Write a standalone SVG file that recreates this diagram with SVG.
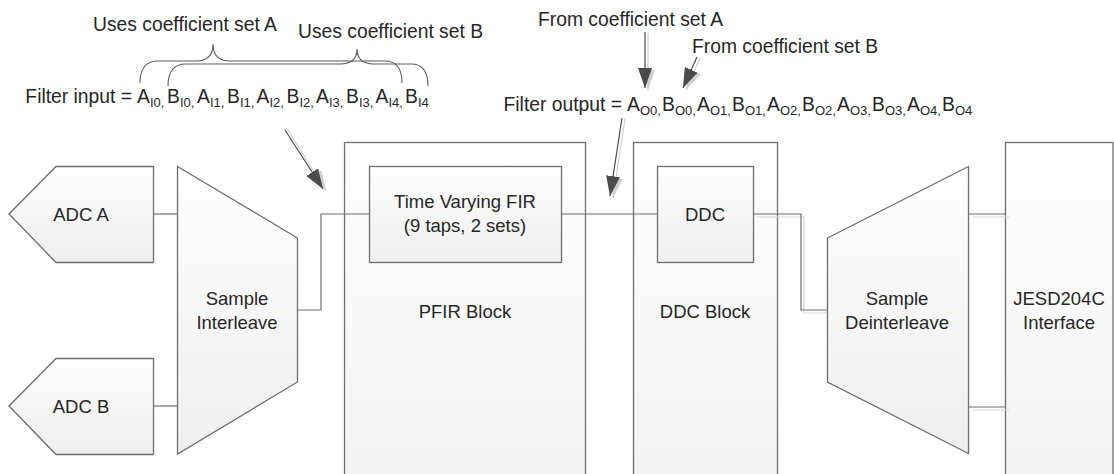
<svg xmlns="http://www.w3.org/2000/svg" width="1114" height="474" viewBox="0 0 1114 474">
<style>
.t{font-family:"Liberation Sans",Arial,sans-serif;font-size:18.5px;fill:#262626}
.a{font-family:"Liberation Sans",Arial,sans-serif;font-size:19.3px;fill:#262626}
.s{font-size:13px}
.box{fill:url(#g);stroke:#6e6e6e;stroke-width:1.3}
.obox{fill:url(#g2);stroke:#6e6e6e;stroke-width:1.3}
.wire{fill:none;stroke:#6e6e6e;stroke-width:1.2}
.wsh{fill:none;stroke:#d4d4d4;stroke-width:1.2}
.brace{fill:none;stroke:#595959;stroke-width:1.1}
.arr{stroke:#4a4a4a;stroke-width:1.2;marker-end:url(#ah)}
.arrs{stroke:#cfcfcf;stroke-width:1.2;marker-end:url(#ahs)}
</style>
<defs>
<linearGradient id="g" x1="0" y1="0" x2="0" y2="1"><stop offset="0" stop-color="#ffffff"/><stop offset="1" stop-color="#eeeeee"/></linearGradient>
<linearGradient id="g2" x1="0" y1="0" x2="0" y2="1"><stop offset="0" stop-color="#ffffff"/><stop offset="1" stop-color="#f3f3f3"/></linearGradient>
<marker id="ah" viewBox="0 0 20 14" refX="20" refY="7" markerWidth="20" markerHeight="14" markerUnits="userSpaceOnUse" orient="auto"><path d="M0,0 L20,7 L0,14 z" fill="#4a4a4a"/></marker>
<marker id="ahs" viewBox="0 0 20 14" refX="20" refY="7" markerWidth="20" markerHeight="14" markerUnits="userSpaceOnUse" orient="auto"><path d="M0,0 L20,7 L0,14 z" fill="#cfcfcf"/></marker>
</defs>
<rect width="1114" height="474" fill="#ffffff"/>

<g id="pfir-block"><rect class="obox" x="344.5" y="142.5" width="241" height="340"/><text class="t" x="465" y="318" text-anchor="middle">PFIR Block</text></g>
<g id="ddc-block"><rect class="obox" x="633.5" y="142.5" width="144" height="340"/><text class="t" x="705" y="318" text-anchor="middle">DDC Block</text></g>
<g id="jesd"><rect class="obox" x="1005.5" y="142.5" width="107.5" height="340"/><text class="t" x="1059" y="305" text-anchor="middle">JESD204C</text><text class="t" x="1059" y="329" text-anchor="middle">Interface</text></g>

<g id="connectors">
<path class="wire" d="M153,214 H177"/>
<path class="wire" d="M153,406 H177"/>
<path class="wire" d="M297,310 H321 V214 H369"/>
<path class="wire" d="M561,214 H657"/>
<path class="wsh" d="M756,217 H804 V313 H827"/>
<path class="wire" d="M753,214 H801 V310 H827"/>
<path class="wsh" d="M973,217 H1009"/>
<path class="wire" d="M968,214 H1005"/>
<path class="wsh" d="M973,410 H1009"/>
<path class="wire" d="M968,407 H1005"/>
</g>

<g id="adc-a"><path class="box" d="M9,214 L56,166.5 H153.5 V262.5 H56 Z"/><text class="t" x="81" y="221" text-anchor="middle">ADC A</text></g>
<g id="adc-b"><path class="box" d="M9,406 L56,358.5 H153.5 V454.5 H56 Z"/><text class="t" x="81" y="413" text-anchor="middle">ADC B</text></g>
<g id="sample-interleave"><path class="box" d="M177.5,166.5 L297.5,238 V382 L177.5,454 Z"/><text class="t" x="237" y="305" text-anchor="middle">Sample</text><text class="t" x="237" y="329" text-anchor="middle">Interleave</text></g>
<g id="fir"><rect class="box" x="369.5" y="166.5" width="192" height="96"/><text class="t" x="465" y="208" text-anchor="middle">Time Varying FIR</text><text class="t" x="465" y="232" text-anchor="middle">(9 taps, 2 sets)</text></g>
<g id="ddc"><rect class="box" x="657.5" y="166.5" width="96" height="96"/><text class="t" x="705" y="221" text-anchor="middle">DDC</text></g>
<g id="sample-deinterleave"><path class="box" d="M827.5,238 L968.5,166.5 V453.5 L827.5,382 Z"/><text class="t" x="897" y="305" text-anchor="middle">Sample</text><text class="t" x="897" y="329" text-anchor="middle">Deinterleave</text></g>

<g id="annotations">
<text class="a" x="93" y="31">Uses coefficient set A</text>
<text class="a" x="298" y="38">Uses coefficient set B</text>
<path class="brace" d="M140,83 Q140,61 158,61 H196 Q213,61 213,44 Q213,61 230,61 H385 Q402,61 402,83"/>
<path class="brace" d="M168,86 Q168,64 186,64 H340 Q357,64 357,49 Q357,64 374,64 H411 Q428,64 428,86"/>
<text class="a" x="132" y="103" text-anchor="end">Filter input =</text>
<text class="a" x="137" y="103">A<tspan class="s" dy="4">I0,</tspan></text>
<text class="a" x="167" y="103">B<tspan class="s" dy="4">I0,</tspan></text>
<text class="a" x="197" y="103">A<tspan class="s" dy="4">I1,</tspan></text>
<text class="a" x="227" y="103">B<tspan class="s" dy="4">I1,</tspan></text>
<text class="a" x="256.5" y="103">A<tspan class="s" dy="4">I2,</tspan></text>
<text class="a" x="286.5" y="103">B<tspan class="s" dy="4">I2,</tspan></text>
<text class="a" x="316" y="103">A<tspan class="s" dy="4">I3,</tspan></text>
<text class="a" x="346" y="103">B<tspan class="s" dy="4">I3,</tspan></text>
<text class="a" x="375.5" y="103">A<tspan class="s" dy="4">I4,</tspan></text>
<text class="a" x="405" y="103">B<tspan class="s" dy="4">I4</tspan></text>

<text class="a" x="538" y="26">From coefficient set A</text>
<text class="a" x="692" y="53">From coefficient set B</text>
<text class="a" x="622" y="111" text-anchor="end">Filter output =</text>
<text class="a" x="627" y="111">A<tspan class="s" dy="4">O0,</tspan></text>
<text class="a" x="662" y="111">B<tspan class="s" dy="4">O0,</tspan></text>
<text class="a" x="697" y="111">A<tspan class="s" dy="4">O1,</tspan></text>
<text class="a" x="732" y="111">B<tspan class="s" dy="4">O1,</tspan></text>
<text class="a" x="767" y="111">A<tspan class="s" dy="4">O2,</tspan></text>
<text class="a" x="802" y="111">B<tspan class="s" dy="4">O2,</tspan></text>
<text class="a" x="837" y="111">A<tspan class="s" dy="4">O3,</tspan></text>
<text class="a" x="872" y="111">B<tspan class="s" dy="4">O3,</tspan></text>
<text class="a" x="907" y="111">A<tspan class="s" dy="4">O4,</tspan></text>
<text class="a" x="942" y="111">B<tspan class="s" dy="4">O4</tspan></text>
</g>

<g id="arrows">
<line class="arrs" x1="288" y1="130" x2="326" y2="191"/>
<line class="arr" x1="285" y1="130" x2="323" y2="189"/>
<line class="arrs" x1="625" y1="118" x2="613" y2="198"/>
<line class="arr" x1="622" y1="118" x2="610" y2="196"/>
<line class="arrs" x1="648" y1="33" x2="648" y2="90"/>
<line class="arr" x1="645" y1="32" x2="645" y2="88"/>
<line class="arrs" x1="700" y1="58" x2="686" y2="90"/>
<line class="arr" x1="697" y1="57" x2="683" y2="88"/>
</g>
</svg>
